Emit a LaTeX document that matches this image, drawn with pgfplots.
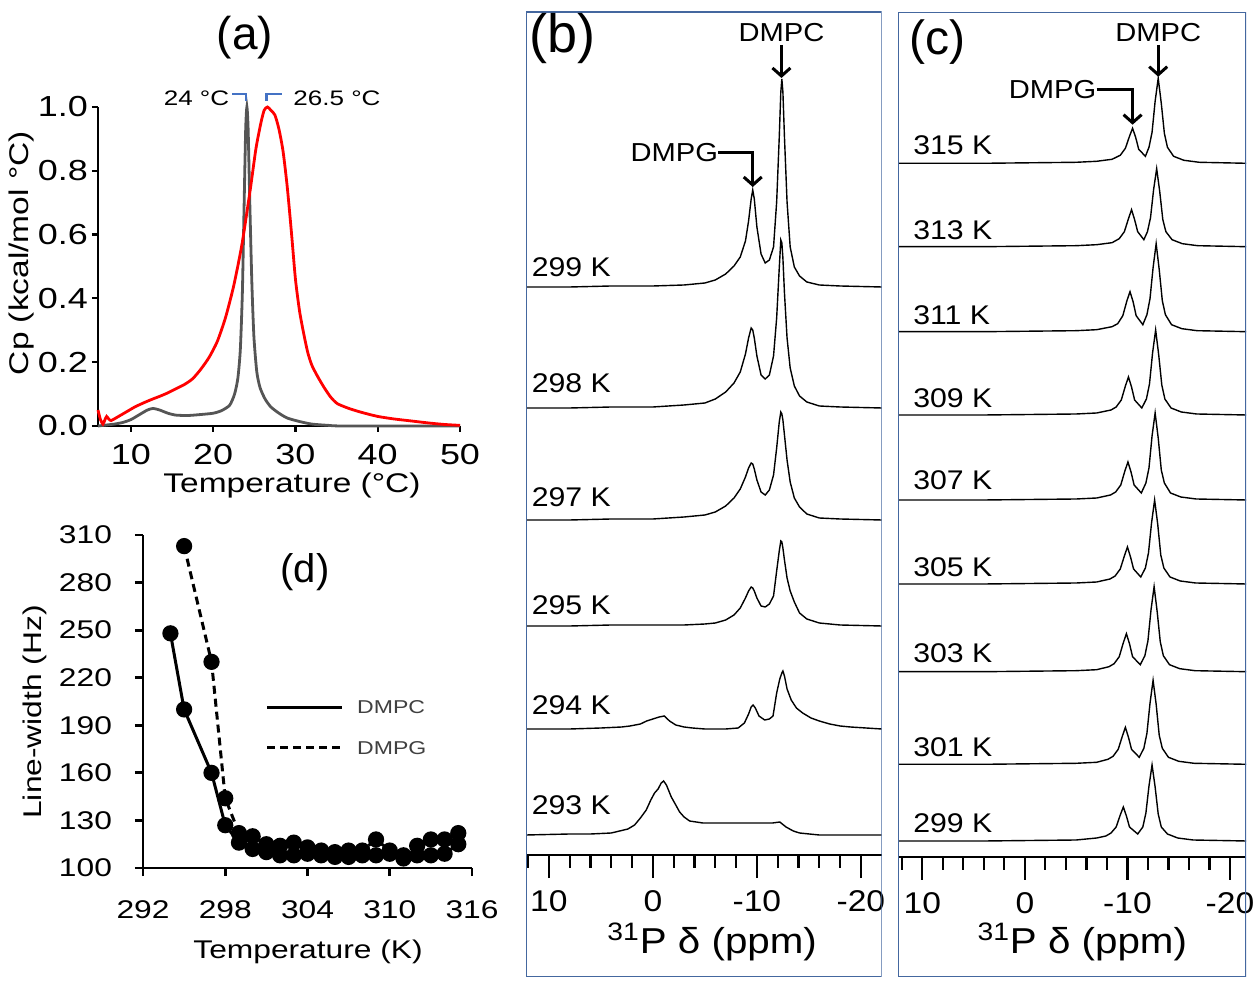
\documentclass[border=0pt]{standalone}
\usepackage{fontspec}
\setmainfont{Liberation Sans}
\newfontfamily\fa{Liberation Sans}[FakeStretch=1.24]
\newfontfamily\fb{Liberation Sans}[FakeStretch=1.12]
\usepackage{pgfplots}
\pgfplotsset{compat=1.18}
\usetikzlibrary{arrows.meta}
\definecolor{boxblue}{RGB}{68,103,159}
\definecolor{brk}{RGB}{68,114,196}
\definecolor{dscgray}{RGB}{85,85,85}
\newcommand{\fs}[1]{\fontsize{#1}{#1}\selectfont}
\tikzset{pk/.style={line width=1.5bp, -{Straight Barb[length=4bp,width=9bp]}},
  tl/.style={anchor=west, font=\fb\fs{13.5bp}, inner sep=0pt}}
\pgfplotsset{spec/.style={black, line width=0.7bp},
  specaxis/.style={scale only axis, anchor=south west, x dir=reverse,
    axis x line=middle, axis y line=none, axis line style={-, line width=1bp},
    hide obscured x ticks=false,
    xtick={10,0,-10,-20}, xticklabels={10,0,-10,-20},
    minor xtick={12,8,6,4,2,-2,-4,-6,-8,-12,-14,-16,-18},
    xtick align=outside, major tick length=11.5bp, minor tick length=6.5bp,
    tick style={black, line width=1.1bp},
    tick label style={font=\fb\fs{15bp}},
    xticklabel style={yshift=-3bp},
    clip=true}}

\begin{document}
\begin{tikzpicture}
\useasboundingbox (0,0) rectangle (630bp,492.5bp);

% ---------- (a) DSC ----------
\begin{axis}[at={(49bp,279.5bp)}, anchor=south west, scale only axis,
  width=181bp, height=159.5bp, xmin=6, xmax=50, ymin=0, ymax=1,
  axis x line*=bottom, axis y line*=left, axis line style={-, line width=1.1bp},
  xtick={10,20,30,40,50}, xticklabels={10,20,30,40,50},
  ytick={0,0.2,0.4,0.6,0.8,1}, yticklabels={0.0,0.2,0.4,0.6,0.8,1.0},
  tick align=outside, major tick length=3bp, tick style={black, line width=1.1bp},
  tick label style={font=\fa\fs{14.5bp}},
  xticklabel style={yshift=-2.5bp}, yticklabel style={xshift=1.5bp},
  clip=false]
\addplot[dscgray, line width=1.4bp, smooth, tension=0.4] coordinates {
 (6,0) (7,0.003) (8,0.006) (9,0.011) (10,0.02) (11,0.035) (12,0.05) (12.7,0.055)
 (13.5,0.05) (14.5,0.04) (15.5,0.034) (17,0.033) (18.5,0.036) (20,0.04) (21,0.048)
 (22,0.065) (22.6,0.10) (23,0.15) (23.3,0.24) (23.55,0.42) (23.75,0.68) (23.95,0.93)
 (24.1,1.0) (24.25,0.93) (24.45,0.7) (24.7,0.45) (24.95,0.28) (25.3,0.17) (25.7,0.12)
 (26.3,0.085) (27,0.06) (28,0.04) (29,0.025) (30.5,0.014) (32,0.006) (34,0.002)
 (36,0) (50,0)};
\addplot[red, line width=1.4bp, smooth, tension=0.4] coordinates {
 (6,0.05) (6.3,0.02) (6.6,0.006) (6.85,0.02) (7.05,0.03) (7.3,0.022) (7.6,0.017)
 (8.3,0.027) (9.5,0.045) (10.5,0.06) (11.5,0.072) (12.5,0.083) (13.5,0.093)
 (14.5,0.104) (15.5,0.117) (16.5,0.13) (17.5,0.148) (18.5,0.178) (19.5,0.215)
 (20.5,0.265) (21.5,0.34) (22.5,0.44) (23.5,0.57) (24.5,0.74) (25.2,0.87)
 (25.8,0.95) (26.2,0.99) (26.6,1.0) (27,0.99) (27.5,0.975) (28,0.93) (28.5,0.86)
 (29,0.75) (29.5,0.61) (30,0.46) (30.5,0.36) (31,0.29) (31.5,0.23) (32,0.19)
 (32.7,0.155) (33.5,0.12) (34.3,0.09) (35.1,0.07) (36.5,0.055) (38,0.043)
 (40,0.03) (42,0.022) (44,0.016) (46,0.01) (48,0.005) (50,0.002)};
\draw[brk, line width=1.1bp] (axis cs:22.3,1.041) -- (axis cs:23.99,1.041) -- (axis cs:23.99,1.019);
\draw[brk, line width=1.1bp] (axis cs:26.48,1.019) -- (axis cs:26.48,1.041) -- (axis cs:28.36,1.041);
\node[anchor=east, font=\fa\fs{10.5bp}, inner sep=0pt] at (axis cs:22.0,1.028) {24 °C};
\node[anchor=west, font=\fa\fs{10.5bp}, inner sep=0pt] at (axis cs:29.7,1.028) {26.5 °C};
\node[font=\fs{23bp}] at (axis cs:23.87,1.216) {(a)};
\node[anchor=base, font=\fa\fs{13.5bp}] at (axis cs:29.58,-0.209) {Temperature (°C)};
\node[rotate=90, anchor=base, font=\fa\fs{13.5bp}] at (axis cs:-2.45,0.542) {Cp (kcal/mol °C)};
\end{axis}

% ---------- (d) line widths ----------
\begin{axis}[at={(71.5bp,58.5bp)}, anchor=south west, scale only axis,
  width=164.5bp, height=166.5bp, xmin=292, xmax=316, ymin=100, ymax=310,
  axis x line*=bottom, axis y line*=left, axis line style={-, line width=1.4bp},
  xtick={292,298,304,310,316}, xticklabels={292,298,304,310,316},
  ytick={100,130,160,190,220,250,280,310},
  yticklabels={100,130,160,190,220,250,280,310},
  tick align=outside, major tick length=4bp, tick style={black, line width=1.4bp},
  tick label style={font=\fa\fs{12.8bp}},
  xticklabel style={yshift=-9bp}, yticklabel style={xshift=-8bp},
  clip=false]
\addplot[black, line width=1.5bp, mark=*, mark size=3.3bp] coordinates {
 (294,248) (295,200) (297,160) (298,127) (299,116) (300,112) (301,110) (302,108)
 (303,108) (304,109) (305,108) (306,107) (307,107) (308,108) (309,108) (310,109)
 (311,106) (312,108) (313,108) (314,109) (315,115)};
\addplot[black, line width=1.5bp, dash pattern=on 4bp off 2.5bp, mark=*, mark size=3.3bp,
  mark options={solid}] coordinates {
 (295,303) (297,230) (298,144) (299,122) (300,120) (301,115) (302,114) (303,116)
 (304,113) (305,111) (306,110) (307,111) (308,111) (309,118) (310,111) (311,108)
 (312,114) (313,118) (314,118) (315,122)};
\draw[black, line width=1.5bp] (axis cs:301.05,201.5) -- (axis cs:306.52,201.5);
\draw[black, line width=1.5bp, dash pattern=on 4bp off 2.5bp] (axis cs:301.05,175.7) -- (axis cs:306.52,175.7);
\node[anchor=west, font=\fa\fs{9.3bp}, text=black!75, inner sep=0pt] at (axis cs:307.6,201.5) {DMPC};
\node[anchor=west, font=\fa\fs{9.3bp}, text=black!75, inner sep=0pt] at (axis cs:307.6,175.7) {DMPG};
\node[font=\fs{20bp}] at (axis cs:303.82,286.7) {(d)};
\node[anchor=base, font=\fa\fs{12.8bp}] at (axis cs:304.04,43.2) {Temperature (K)};
\node[rotate=90, anchor=base, font=\fa\fs{12.8bp}] at (axis cs:284.6,198.4) {Line-width (Hz)};
\end{axis}

% ---------- (b) spectra 293-299 K ----------
\begin{axis}[specaxis, at={(263bp,4bp)}, width=177.85bp, height=482.5bp,
  xmin=-22, xmax=12.2, ymin=-122, ymax=843]
\addplot[spec] table[row sep=\\, x=d, y expr=\thisrow{h}+568] {
d h\\ 12.2 0\\ 8 0\\ 4 1\\ 0 1\\ -3 2\\ -5 4\\ -6 7\\ -7 13\\ -7.8 21\\ -8.4 30\\
-8.9 46\\ -9.2 66\\ -9.45 88\\ -9.6 97\\ -9.75 88\\ -10 60\\ -10.4 33\\ -10.8 24\\
-11.2 27\\ -11.6 40\\ -11.9 85\\ -12.15 150\\ -12.3 195\\ -12.4 208\\ -12.5 195\\
-12.65 150\\ -12.9 85\\ -13.2 40\\ -13.6 20\\ -14.1 11\\ -14.8 5\\ -16 2\\ -18 1\\ -22 0\\};
\addplot[spec] table[row sep=\\, x=d, y expr=\thisrow{h}+447] {
d h\\ 12.2 0\\ 8 0\\ 4 1\\ 0 1\\ -3 3\\ -5 5\\ -6 9\\ -7 16\\ -7.8 25\\ -8.4 36\\
-8.9 54\\ -9.2 70\\ -9.45 80\\ -9.6 78\\ -9.75 70\\ -10 52\\ -10.4 33\\ -10.8 29\\
-11.2 33\\ -11.6 52\\ -11.9 90\\ -12.15 140\\ -12.3 168\\ -12.4 165\\ -12.5 150\\
-12.65 115\\ -12.9 70\\ -13.2 40\\ -13.6 22\\ -14.1 12\\ -14.8 6\\ -16 2\\ -18 1\\ -22 0\\};
\addplot[spec] table[row sep=\\, x=d, y expr=\thisrow{h}+335] {
d h\\ 12.2 0\\ 8 0\\ 4 1\\ 0 1\\ -3 3\\ -5 5\\ -6 8\\ -7 14\\ -7.8 22\\ -8.4 31\\
-8.9 43\\ -9.2 52\\ -9.45 57\\ -9.6 56\\ -9.75 51\\ -10 40\\ -10.4 28\\ -10.8 25\\
-11.2 30\\ -11.6 45\\ -11.9 72\\ -12.15 98\\ -12.3 108\\ -12.4 106\\ -12.5 100\\
-12.65 85\\ -12.9 60\\ -13.2 38\\ -13.6 22\\ -14.1 13\\ -14.8 6\\ -16 2\\ -18 1\\ -22 0\\};
\addplot[spec] table[row sep=\\, x=d, y expr=\thisrow{h}+229] {
d h\\ 12.2 0\\ 8 0\\ 4 1\\ 0 1\\ -3 1\\ -5 2\\ -6 3\\ -7 6\\ -7.8 11\\ -8.4 18\\
-8.9 28\\ -9.2 35\\ -9.45 39\\ -9.6 38\\ -9.75 35\\ -10 28\\ -10.4 20\\ -10.8 19\\
-11.2 22\\ -11.6 30\\ -11.9 55\\ -12.15 75\\ -12.3 85\\ -12.4 84\\ -12.5 78\\
-12.65 66\\ -12.9 48\\ -13.2 35\\ -13.6 24\\ -14.1 13\\ -14.8 7\\ -16 3\\ -18 1\\ -22 0\\};
\addplot[spec] table[row sep=\\, x=d, y expr=\thisrow{h}+126] {
d h\\ 12.2 0\\ 8 0\\ 5 1\\ 3 2\\ 2.2 3\\ 1.2 5\\ 0.6 8\\ 0 10\\ -0.6 12\\ -1.1 13\\
-1.6 8\\ -2.2 4\\ -3 2\\ -3.8 1\\ -5 0\\ -7 0\\ -8.2 1\\ -8.8 6\\ -9.2 15\\ -9.45 22\\
-9.63 24\\ -9.85 21\\ -10.2 13\\ -10.75 9\\ -11.2 10\\ -11.55 13\\ -11.9 36\\ -12.2 50\\
-12.4 56\\ -12.5 58\\ -12.65 53\\ -12.9 40\\ -13.3 29\\ -13.8 21\\ -14.4 16\\
-15.2 11\\ -16 8\\ -17 5\\ -18 3\\ -19 2\\ -22 0\\};
\addplot[spec] table[row sep=\\, x=d, y expr=\thisrow{h}+20] {
d h\\ 12.2 0\\ 8 1\\ 6 1\\ 4 2\\ 3.2 4\\ 2.4 6\\ 1.76 10\\ 1.2 17\\ 0.64 25\\ 0.2 35\\
-0.16 42\\ -0.5 46\\ -0.8 52\\ -1.03 54\\ -1.3 50\\ -1.77 38\\ -2.2 30\\ -2.57 23\\
-3 18\\ -3.53 14\\ -4.8 12\\ -6 12\\ -8 12\\ -10 12\\ -11.5 12\\ -12.2 13\\ -12.8 8\\
-13.5 4\\ -14.1 2\\ -16 0\\ -18 0\\ -22 0\\};
\draw[boxblue, line width=1bp] (rel axis cs:0,0) rectangle (rel axis cs:1,1);
\node[font=\fs{27bp}] at (axis cs:8.69,816) {(b)};
\node[font=\fb\fs{13bp}] at (axis cs:-12.36,822) {DMPC};
\draw[pk] (axis cs:-12.36,810) -- (axis cs:-12.36,777);
\node[anchor=east, font=\fb\fs{13bp}, inner sep=0pt] at (axis cs:-6.3,702) {DMPG};
\draw[pk] (axis cs:-6.3,702) -- (axis cs:-9.6,702) -- (axis cs:-9.6,668);
\node[tl] at (axis cs:11.68,588) {299 K};
\node[tl] at (axis cs:11.68,472) {298 K};
\node[tl] at (axis cs:11.68,358) {297 K};
\node[tl] at (axis cs:11.68,250) {295 K};
\node[tl] at (axis cs:11.68,150) {294 K};
\node[tl] at (axis cs:11.68,50) {293 K};
\node[font=\fb\fs{18bp}] at (axis cs:-5.7,-87) {\textsuperscript{31}P δ (ppm)};
\end{axis}

% ---------- (c) spectra 299-315 K ----------
\begin{axis}[specaxis, at={(449bp,4.15bp)}, width=174bp, height=482.2bp,
  xmin=-21.56, xmax=12.37, ymin=-120, ymax=844.4]
\addplot[spec] table[row sep=\\, x=d, y expr=\thisrow{h}+693.4] {
d h\\ 12.4 0\\ 4 0\\ -5 1\\ -7 2\\ -8.5 4\\ -9.3 8\\ -9.8 15\\ -10.2 27\\ -10.5 35\\
-10.8 26\\ -11.1 14\\ -11.75 7\\ -12.1 16\\ -12.4 31\\ -12.7 62\\ -13 85\\ -13.3 60\\
-13.6 30\\ -13.9 16\\ -14.5 7\\ -15.5 3\\ -17 1\\ -21.6 0\\};
\addplot[spec] table[row sep=\\, x=d, y expr=\thisrow{h}+610] {
d h\\ 12.4 0\\ 4 0\\ -5 1\\ -7 2\\ -8.5 4\\ -9.2 8\\ -9.7 15\\ -10.1 28\\ -10.4 37\\
-10.7 27\\ -11 15\\ -11.6 7\\ -11.95 15\\ -12.25 29\\ -12.55 57\\ -12.85 78\\ -13.15 55\\
-13.45 27\\ -13.75 15\\ -14.35 7\\ -15.35 3\\ -16.85 1\\ -21.6 0\\};
\addplot[spec] table[row sep=\\, x=d, y expr=\thisrow{h}+525] {
d h\\ 12.4 0\\ 4 0\\ -5 1\\ -7 2\\ -8.5 5\\ -9.05 8\\ -9.55 16\\ -9.95 31\\ -10.25 40\\
-10.55 30\\ -10.85 16\\ -11.5 7\\ -11.9 17\\ -12.2 33\\ -12.5 64\\ -12.8 88\\ -13.1 62\\
-13.4 31\\ -13.7 17\\ -14.3 7\\ -15.3 3\\ -16.8 1\\ -21.6 0\\};
\addplot[spec] table[row sep=\\, x=d, y expr=\thisrow{h}+441.7] {
d h\\ 12.4 0\\ 4 0\\ -5 1\\ -7 2\\ -8.4 5\\ -8.9 8\\ -9.4 15\\ -9.8 29\\ -10.1 38\\
-10.4 28\\ -10.7 15\\ -11.4 7\\ -11.85 16\\ -12.15 31\\ -12.45 62\\ -12.75 85\\ -13.05 60\\
-13.35 30\\ -13.65 16\\ -14.25 7\\ -15.25 3\\ -16.75 1\\ -21.6 0\\};
\addplot[spec] table[row sep=\\, x=d, y expr=\thisrow{h}+356.7] {
d h\\ 12.4 0\\ 4 0\\ -5 1\\ -7 2\\ -8.35 5\\ -8.85 8\\ -9.35 15\\ -9.75 29\\ -10.05 38\\
-10.35 28\\ -10.65 15\\ -11.35 7\\ -11.8 17\\ -12.1 32\\ -12.4 64\\ -12.7 87\\ -13 62\\
-13.3 30\\ -13.6 17\\ -14.2 7\\ -15.2 3\\ -16.7 1\\ -21.6 0\\};
\addplot[spec] table[row sep=\\, x=d, y expr=\thisrow{h}+272.7] {
d h\\ 12.4 0\\ 4 0\\ -5 1\\ -7 2\\ -8.3 5\\ -8.8 8\\ -9.3 15\\ -9.7 28\\ -10 37\\
-10.3 27\\ -10.6 15\\ -11.3 7\\ -11.75 16\\ -12.05 31\\ -12.35 61\\ -12.65 84\\ -12.95 60\\
-13.25 29\\ -13.55 16\\ -14.15 7\\ -15.15 3\\ -16.65 1\\ -21.6 0\\};
\addplot[spec] table[row sep=\\, x=d, y expr=\thisrow{h}+185] {
d h\\ 12.4 0\\ 4 0\\ -5 1\\ -7 2\\ -8.2 5\\ -8.7 8\\ -9.2 15\\ -9.6 29\\ -9.9 38\\
-10.2 28\\ -10.5 15\\ -11.25 7\\ -11.7 16\\ -12 31\\ -12.3 62\\ -12.6 85\\ -12.9 60\\
-13.2 30\\ -13.5 16\\ -14.1 7\\ -15.1 3\\ -16.6 1\\ -21.6 0\\};
\addplot[spec] table[row sep=\\, x=d, y expr=\thisrow{h}+92.4] {
d h\\ 12.4 0\\ 4 0\\ -5 1\\ -7 2\\ -8.1 5\\ -8.6 8\\ -9.1 15\\ -9.5 28\\ -9.8 37\\
-10.1 27\\ -10.4 15\\ -11.15 7\\ -11.6 16\\ -11.9 31\\ -12.2 61\\ -12.5 84\\ -12.8 60\\
-13.1 29\\ -13.4 16\\ -14 7\\ -15 3\\ -16.5 1\\ -21.6 0\\};
\addplot[spec] table[row sep=\\, x=d, y expr=\thisrow{h}+15.7] {
d h\\ 12.4 0\\ 4 0\\ -5 1\\ -7 3\\ -7.9 5\\ -8.4 8\\ -8.9 14\\ -9.3 26\\ -9.6 34\\
-9.9 25\\ -10.2 14\\ -11 7\\ -11.5 14\\ -11.8 28\\ -12.1 55\\ -12.4 76\\ -12.7 54\\
-13 27\\ -13.3 14\\ -13.9 7\\ -14.9 3\\ -16.4 1\\ -21.6 0\\};
\draw[boxblue, line width=1bp] (rel axis cs:0,0) rectangle (rel axis cs:1,1);
\node[font=\fs{24bp}] at (axis cs:8.48,814.7) {(c)};
\node[font=\fb\fs{13bp}] at (axis cs:-13.0,823.7) {DMPC};
\draw[pk] (axis cs:-13.0,811.7) -- (axis cs:-13.0,780);
\node[anchor=east, font=\fb\fs{13bp}, inner sep=0pt] at (axis cs:-7.0,766.7) {DMPG};
\draw[pk] (axis cs:-7.0,766.7) -- (axis cs:-10.5,766.7) -- (axis cs:-10.5,732);
\node[tl] at (axis cs:10.92,711.7) {315 K};
\node[tl] at (axis cs:10.92,626.7) {313 K};
\node[tl] at (axis cs:10.92,541.7) {311 K};
\node[tl] at (axis cs:10.92,458.7) {309 K};
\node[tl] at (axis cs:10.92,376.7) {307 K};
\node[tl] at (axis cs:10.92,289.7) {305 K};
\node[tl] at (axis cs:10.92,203.7) {303 K};
\node[tl] at (axis cs:10.92,109.7) {301 K};
\node[tl] at (axis cs:10.92,33.7) {299 K};
\node[font=\fb\fs{18bp}] at (axis cs:-5.6,-85) {\textsuperscript{31}P δ (ppm)};
\end{axis}
\end{tikzpicture}
\end{document}
